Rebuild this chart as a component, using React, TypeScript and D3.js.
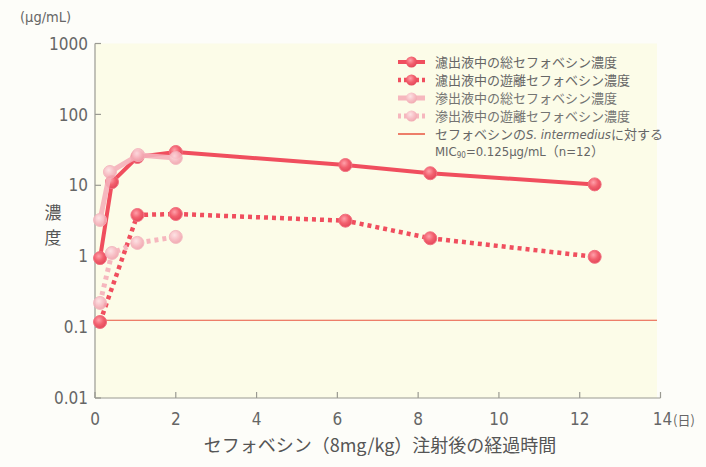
import React from "react";
import * as d3 from "d3";

const W = 706;
const H = 467;

const yTicks = [0.01, 0.1, 1, 10, 100, 1000];
const yTickLabels = ["0.01", "0.1", "1", "10", "100", "1000"];
const xTicks = [0, 2, 4, 6, 8, 10, 12, 14];
const xTickLabels = ["0", "2", "4", "6", "8", "10", "12", "14"];

// days after injection
const filtrateTotalDays = [0.125, 0.42, 1.05, 2.0, 6.2, 8.3, 12.37];
const filtrateTotal = [0.94, 11.1, 25.1, 29.5, 19.3, 14.8, 10.3];
const filtrateFreeDays = [0.125, 1.05, 2.0, 6.2, 8.3, 12.37];
const filtrateFree = [0.118, 3.81, 3.94, 3.17, 1.79, 0.98];
const exudateTotalDays = [0.125, 0.37, 1.07, 2.0];
const exudateTotal = [3.24, 15.4, 26.7, 24.3];
const exudateFreeDays = [0.125, 0.42, 1.05, 2.0];
const exudateFree = [0.219, 1.11, 1.54, 1.87];
const mic90 = 0.125;

const legendLabels = [
  "濾出液中の総セフォベシン濃度",
  "濾出液中の遊離セフォベシン濃度",
  "滲出液中の総セフォベシン濃度",
  "滲出液中の遊離セフォベシン濃度",
];

const DARK = "#f04e5e";
const LIGHT = "#f6b0ba";
const FONT = "'Liberation Sans Narrow','DejaVu Sans Condensed','Noto Sans CJK JP',sans-serif";
const JFONT = "'Noto Sans CJK JP',sans-serif";

export default function App() {
  const x = d3.scaleLinear().domain([0, 14]).range([95, 660.5]);
  const y = d3.scaleLog().domain([0.01, 1000]).range([398, 43.5]);

  const series = [
    { days: filtrateTotalDays, vals: filtrateTotal, color: DARK, dash: null, width: 4, grad: "gDark", op: 1 },
    { days: filtrateFreeDays, vals: filtrateFree, color: DARK, dash: "4 4", width: 4.5, grad: "gDark", op: 1 },
    { days: exudateTotalDays, vals: exudateTotal, color: LIGHT, dash: null, width: 5, grad: "gLight", op: 0.9 },
    { days: exudateFreeDays, vals: exudateFree, color: LIGHT, dash: "4 4", width: 5, grad: "gLight", op: 0.9 },
  ];

  const line = d3
    .line<[number, number]>()
    .x((d) => x(d[0]))
    .y((d) => y(d[1]));

  const legY = [62, 80, 98, 116];

  return (
    <svg
      width={W}
      height={H}
      style={{ position: "absolute", left: 0, top: 0, background: "#fdfdf9" }}
    >
      <defs>
        <radialGradient id="gDark" cx="40%" cy="35%" r="65%">
          <stop offset="0%" stopColor="#ffa0aa" />
          <stop offset="55%" stopColor="#f2606e" />
          <stop offset="100%" stopColor="#e4485a" />
        </radialGradient>
        <radialGradient id="gLight" cx="40%" cy="35%" r="65%">
          <stop offset="0%" stopColor="#fde0e4" />
          <stop offset="60%" stopColor="#f7b8c1" />
          <stop offset="100%" stopColor="#f1a2ad" />
        </radialGradient>
      </defs>
      {/* plot background */}
      <rect x={95} y={43.5} width={562} height={354.5} fill="#fcfce8" />

      {/* axes */}
      <line x1={95} x2={95} y1={43.5} y2={398} stroke="#9a9a92" strokeWidth={1.2} />
      <line x1={95} x2={660.5} y1={398} y2={398} stroke="#9a9a92" strokeWidth={1.2} />
      {yTicks.map((t, i) => (
        <g key={"y" + i}>
          <line x1={95} x2={101} y1={y(t)} y2={y(t)} stroke="#9a9a92" strokeWidth={1.2} />
          <text
            x={88}
            y={y(t)}
            dy="0.36em"
            textAnchor="end"
            fontSize={17}
            fill="#666"
            fontFamily={FONT}
          >
            {yTickLabels[i]}
          </text>
        </g>
      ))}
      {xTicks.map((t, i) => (
        <g key={"x" + i}>
          <line x1={x(t)} x2={x(t)} y1={398} y2={392} stroke="#9a9a92" strokeWidth={1.2} />
          <text
            x={x(t) + (t === 14 ? 2 : 0)}
            y={425}
            textAnchor="middle"
            fontSize={17}
            fill="#666"
            fontFamily={FONT}
          >
            {xTickLabels[i]}
          </text>
        </g>
      ))}
      <text x={673} y={425} fontSize={13} fill="#666" fontFamily={JFONT}>
        (日)
      </text>

      {/* unit */}
      <text x={20} y={22} fontSize={14.5} fill="#666" fontFamily={FONT}>
        (μg/mL)
      </text>
      {/* y title */}
      <text x={53} y={219} textAnchor="middle" fontSize={17} fill="#555" fontFamily={JFONT}>
        濃
      </text>
      <text x={53} y={244} textAnchor="middle" fontSize={17} fill="#555" fontFamily={JFONT}>
        度
      </text>
      {/* x title */}
      <text x={380} y={452} textAnchor="middle" fontSize={18} fill="#555" fontFamily={JFONT}>
        セフォベシン（8mg/kg）注射後の経過時間
      </text>

      {/* MIC line */}
      <line x1={95} x2={657} y1={y(mic90)} y2={y(mic90)} stroke="#e8553f" strokeWidth={1.2} />

      {/* series */}
      {series.map((s, si) => {
        const pts: [number, number][] = s.days.map((d, i) => [d, s.vals[i]]);
        return (
          <g key={"s" + si} opacity={s.op}>
            <path
              d={line(pts) || ""}
              fill="none"
              stroke={s.color}
              strokeWidth={s.width}
              strokeDasharray={s.dash || undefined}
              strokeLinejoin="round"
            />
            {pts.map((p, i) => (
              <circle
                key={i}
                cx={x(p[0])}
                cy={y(p[1])}
                r={6.5}
                fill={`url(#${s.grad})`}
                stroke={s.color === DARK ? "#f27080" : "#f4b4bd"}
                strokeWidth={1}
              />
            ))}
          </g>
        );
      })}

      {/* legend */}
      {series.map((s, i) => (
        <g key={"l" + i} opacity={s.op}>
          <line
            x1={398}
            x2={425}
            y1={legY[i]}
            y2={legY[i]}
            stroke={s.color}
            strokeWidth={s.width}
            strokeDasharray={s.dash ? "3 3" : undefined}
          />
          <circle cx={411.5} cy={legY[i]} r={5.5} fill={`url(#${s.grad})`} />
          <text
            x={435}
            y={legY[i]}
            dy="0.36em"
            fontSize={13}
            fill="#666"
            fontFamily={JFONT}
          >
            {legendLabels[i]}
          </text>
        </g>
      ))}
      <line x1={398} x2={425} y1={134} y2={134} stroke="#e8553f" strokeWidth={1.5} />
      <text x={435} y={134} dy="0.36em" fontSize={13} fill="#666" fontFamily={JFONT}>
        セフォベシンの
        <tspan fontFamily={FONT} fontStyle="italic">S. intermedius</tspan>
        に対する
      </text>
      <text x={435} y={151} dy="0.36em" fontSize={13} fill="#666" fontFamily={FONT}>
        MIC
        <tspan fontSize={8} dy="2">90</tspan>
        <tspan dy="-2">=0.125μg/mL（n=12）</tspan>
      </text>
    </svg>
  );
}
